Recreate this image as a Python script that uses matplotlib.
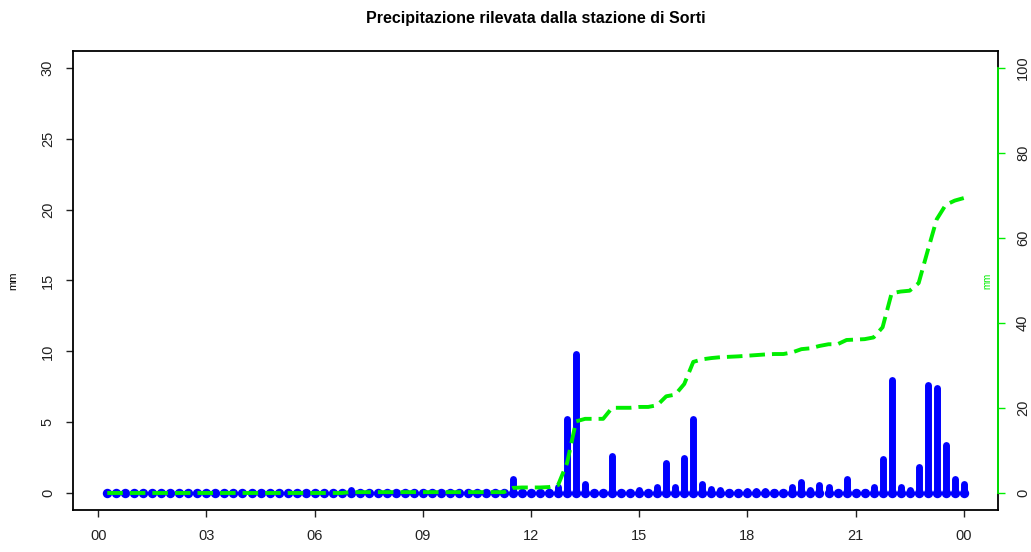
import numpy as np
import matplotlib.pyplot as plt

plt.rcParams['font.family'] = ['Liberation Sans', 'DejaVu Sans']

# pioggia ogni 15 minuti (mm), dalle 00:15 alle 24:00
pioggia = [
    0, 0, 0, 0,   0, 0, 0, 0,   0, 0, 0, 0,          # 00-03
    0, 0, 0, 0,   0, 0, 0, 0,   0, 0, 0, 0,          # 03-06
    0, 0, 0, 0.2, 0, 0, 0, 0,   0, 0, 0, 0,          # 06-09
    0, 0, 0, 0,   0, 0, 0, 0,   0, 1.0, 0.1, 0,      # 09-12
    0, 0.1, 0.45, 5.2, 9.8, 0.6, 0, 0,  2.6, 0, 0, 0.2,      # 12-15
    0, 0.4, 2.1, 0.4,  2.5, 5.2, 0.6, 0.3,  0.2, 0.1, 0.1, 0.15,  # 15-18
    0.15, 0.15, 0.1, 0,  0.4, 0.75, 0.2, 0.55,  0.4, 0, 1.0, 0.1,  # 18-21
    0.1, 0.4, 2.4, 8.0,  0.4, 0.2, 1.8, 7.6,  7.4, 3.4, 1.0, 0.6,  # 21-24
]
ore = np.arange(1, len(pioggia) + 1) / 4
cumulata = np.cumsum(pioggia)

tick_ore = [0, 3, 6, 9, 12, 15, 18, 21, 24]
tick_etichette = ['00', '03', '06', '09', '12', '15', '18', '21', '00']

fig = plt.figure(figsize=(10.31, 5.52), dpi=100)
ax = fig.add_axes([0.0708, 0.0761, 0.8972, 0.8315])

# barre verticali tipo "h" con estremi arrotondati
ax.vlines(ore, 0, pioggia, colors='#0000ff', linewidth=5.0, capstyle='round', zorder=2)
ax.scatter(ore, np.zeros(len(ore)), s=46, color='#0000ff', linewidths=0, zorder=2)

ax.set_xlim(-0.7, 24.95)
ax.set_ylim(-1.2, 31.2)
ax.set_xticks(tick_ore)
ax.set_xticklabels(tick_etichette)
ax.set_yticks(range(0, 31, 5))
ax.tick_params(direction='out', length=5, width=1, labelsize=10.5, colors='#222222')
for lab in ax.get_yticklabels():
    lab.set_rotation(90)
    lab.set_va('center')
ax.tick_params(axis='y', pad=8)
ax.tick_params(axis='x', pad=9)
for s in ax.spines.values():
    s.set_linewidth(1.3)
    s.set_color('black')
ax.set_ylabel('mm', fontsize=8, labelpad=16)

# cumulata sull'asse destro
ax2 = ax.twinx()
ax2.plot(ore, cumulata, color='#00ee00', linewidth=2.8, dashes=(4, 1.8), zorder=3)
ax2.set_ylim(-4, 104)
ax2.set_yticks(range(0, 101, 20))
ax2.spines['right'].set_bounds(0, 100)
ax2.spines['right'].set_color('#00ee00')
ax2.spines['right'].set_linewidth(1.3)
for nome in ['left', 'top', 'bottom']:
    ax2.spines[nome].set_visible(False)
ax2.tick_params(axis='y', direction='out', length=5, width=1, color='#00ee00',
                labelcolor='#222222', labelsize=10.5, pad=8)
for lab in ax2.get_yticklabels():
    lab.set_rotation(90)
    lab.set_va('center')
ax2.text(0.989, 0.5, 'mm', transform=ax.transAxes, rotation=90, color='#00ee00',
         fontsize=7, ha='center', va='center')

ax.set_title('Precipitazione rilevata dalla stazione di Sorti', fontsize=11.5,
             fontweight='bold', pad=20)

fig.savefig('out.png', dpi=100)
